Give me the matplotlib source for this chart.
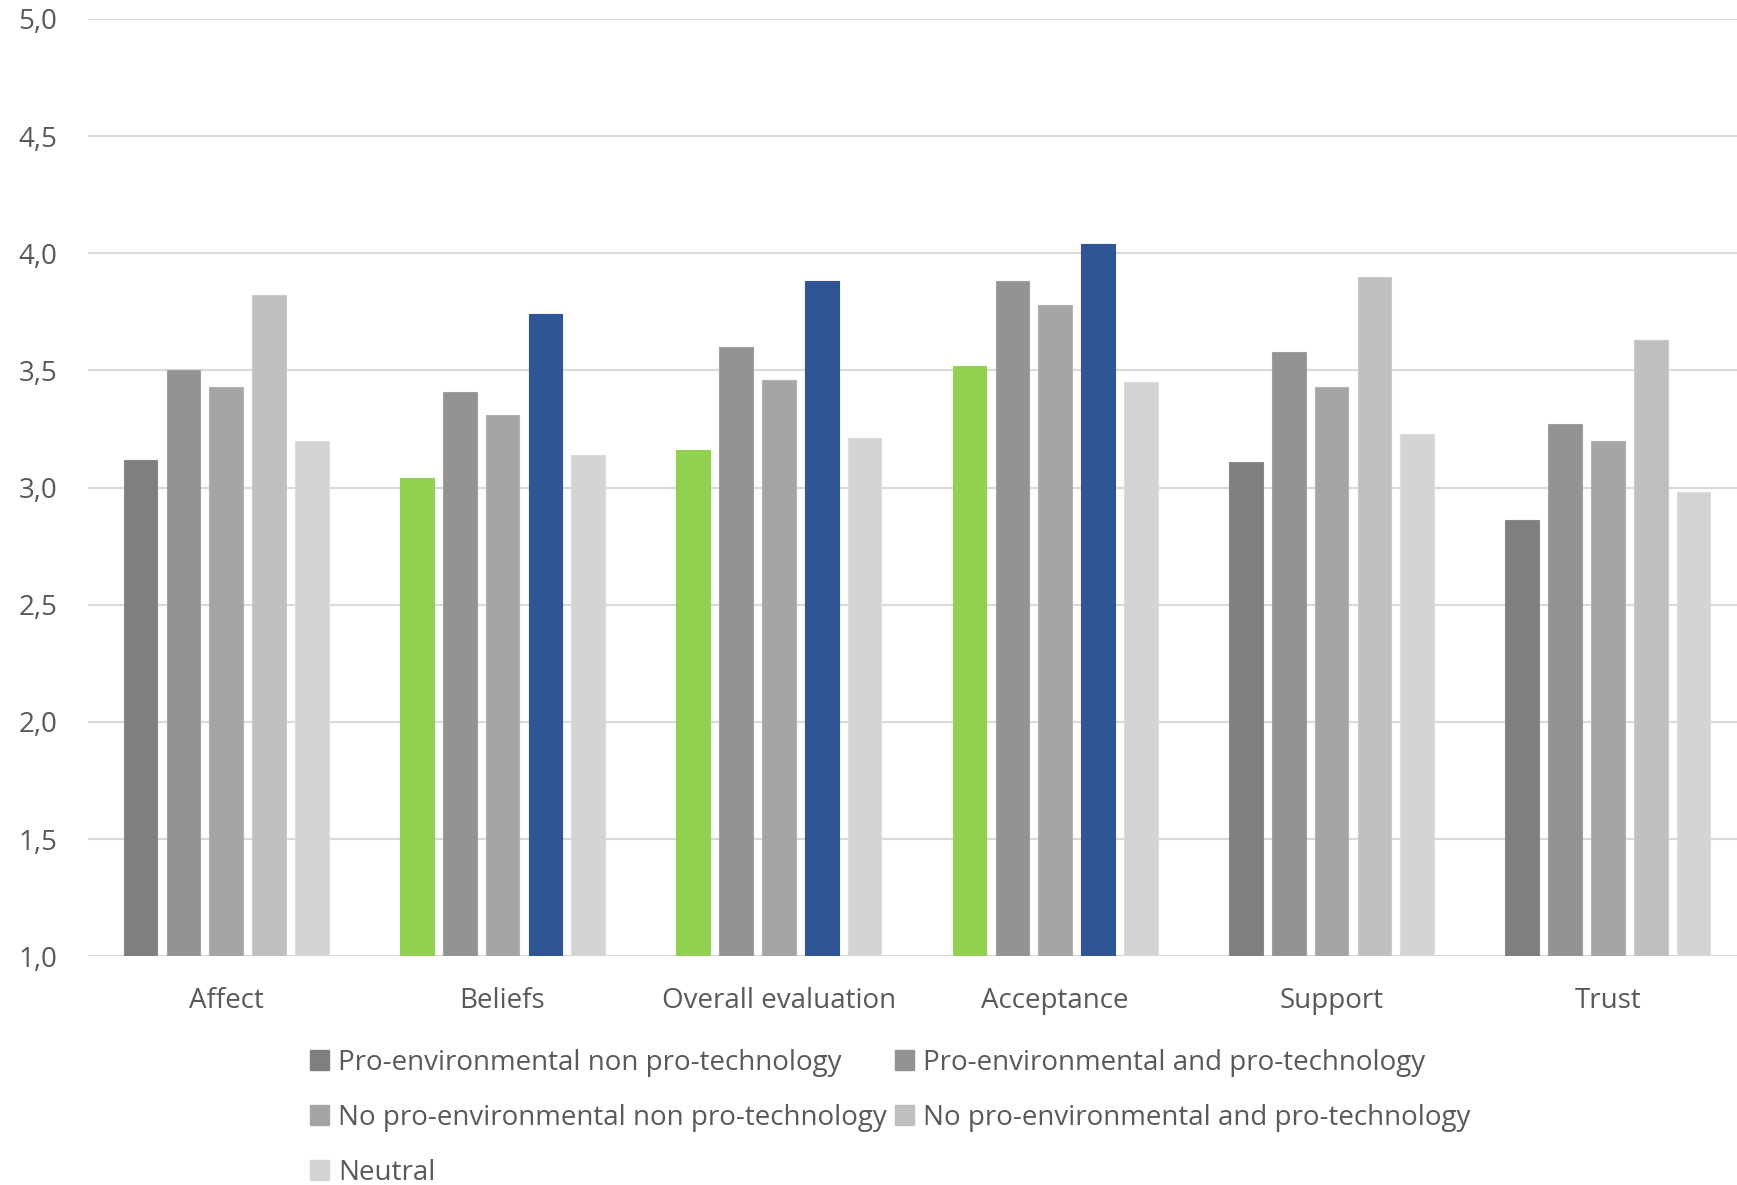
import matplotlib
matplotlib.use("Agg")
import matplotlib.pyplot as plt
import numpy as np
from matplotlib.ticker import FuncFormatter
from matplotlib.patches import Patch

categories = ["Affect", "Beliefs", "Overall evaluation", "Acceptance", "Support", "Trust"]
series_names = [
    "Pro-environmental non pro-technology",
    "Pro-environmental and pro-technology",
    "No pro-environmental non pro-technology",
    "No pro-environmental and pro-technology",
    "Neutral",
]
pro_env_non_tech = [3.12, 3.04, 3.16, 3.52, 3.11, 2.86]
pro_env_and_tech = [3.50, 3.41, 3.60, 3.88, 3.58, 3.27]
no_env_non_tech = [3.43, 3.31, 3.46, 3.78, 3.43, 3.20]
no_env_and_tech = [3.82, 3.74, 3.88, 4.04, 3.90, 3.63]
neutral = [3.20, 3.14, 3.21, 3.45, 3.23, 2.98]
series = [pro_env_non_tech, pro_env_and_tech, no_env_non_tech, no_env_and_tech, neutral]

base_colors = ["#7F7F7F", "#939393", "#A5A5A5", "#BFBFBF", "#D4D4D4"]
edge_colors = ["#8A8A8A", "#A0A0A0", "#B2B2B2", "#CACACA", "#DCDCDC"]
highlight = {(0, 1): "#92D050", (0, 2): "#92D050", (0, 3): "#92D050",
             (3, 1): "#2F5597", (3, 2): "#2F5597", (3, 3): "#2F5597"}

plt.rcParams['font.family'] = ['Open Sans', 'DejaVu Sans']

fig = plt.figure(figsize=(17.37, 11.85), dpi=100)
ax = fig.add_axes([0.0507, 0.193, 0.9545, 0.791])
ax.set_clip_on(False)

x = np.arange(len(categories))
width = 0.122
pitch = 0.155
for i, vals in enumerate(series):
    pos = x + (i - 2) * pitch
    cols = [highlight.get((i, j), base_colors[i]) for j in range(len(categories))]
    ecols = [highlight.get((i, j), edge_colors[i]) for j in range(len(categories))]
    heights = np.array(vals) - 1.0
    ax.bar(pos, heights, width, bottom=1.0, color=cols, edgecolor=ecols,
           linewidth=0.8, zorder=3)

ax.set_ylim(1.0, 5.0)
ax.set_xlim(-0.5, len(categories) - 0.5)
ax.set_yticks(np.arange(1.0, 5.01, 0.5))
ax.yaxis.set_major_formatter(FuncFormatter(lambda v, p: f"{v:.1f}".replace(".", ",")))
ax.set_xticks(x)
ax.set_xticklabels(categories)
ax.grid(axis='y', color='#D9D9D9', linewidth=1.5, zorder=0)
for s in ax.spines.values():
    s.set_visible(False)
ax.tick_params(axis='both', length=0, labelsize=20, colors='#595959')
ax.tick_params(axis='x', pad=22)
ax.tick_params(axis='y', pad=22)

handles = [Patch(facecolor=c, edgecolor=c) for c in base_colors]
order = [0, 2, 4, 1, 3]
leg = fig.legend([handles[k] for k in order], [series_names[k] for k in order],
                 ncol=2, loc='upper left',
                 bbox_to_anchor=(0.1785, 0.115), frameon=False, fontsize=20,
                 handlelength=0.7, handleheight=0.7, handletextpad=0.3,
                 columnspacing=0.3, labelspacing=0.97, borderaxespad=0, borderpad=0)
for t in leg.get_texts():
    t.set_color('#595959')

fig.savefig("out.png", dpi=100, facecolor='white')
